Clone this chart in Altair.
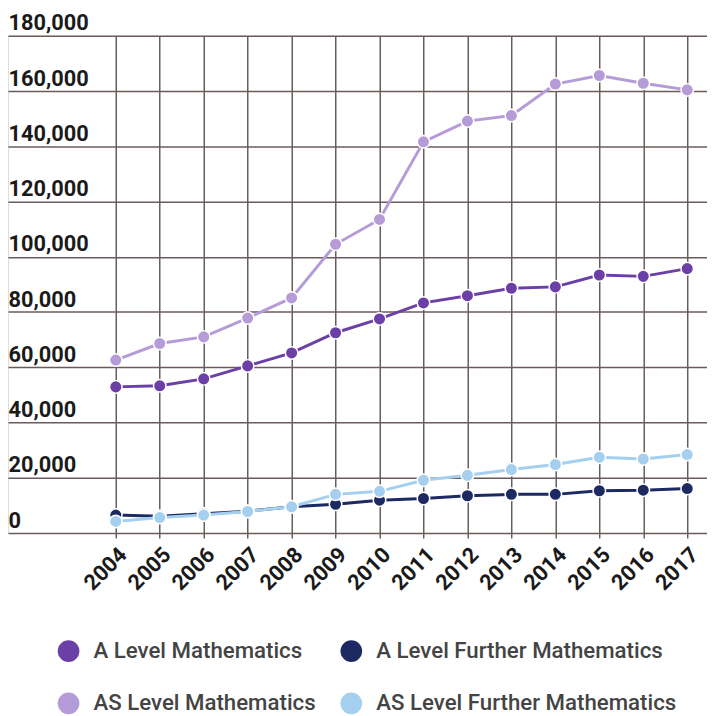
import altair as alt
import pandas as pd

years = list(range(2004, 2018))
series = ["A Level Mathematics", "A Level Further Mathematics",
          "AS Level Mathematics", "AS Level Further Mathematics"]
colors = ["#6b3fa6", "#1d2a62", "#b59cd8", "#a5cfef"]

a_level_maths = [52900, 53300, 55800, 60500, 65200, 72500, 77500, 83300,
                 85900, 88600, 89100, 93400, 92900, 95700]
a_level_further = [6500, 6100, 7000, 7900, 9500, 10400, 11900, 12500,
                   13500, 14000, 14000, 15300, 15500, 16100]
as_level_maths = [62600, 68600, 71000, 77800, 85100, 104500, 113500, 141600,
                  149100, 151100, 162500, 165600, 162800, 160400]
as_level_further = [4200, 5600, 6500, 7800, 9500, 14000, 15100, 19100,
                    20900, 23000, 24800, 27400, 26800, 28400]

y_ticks = list(range(0, 180001, 20000))

rows = []
for name, vals in zip(series, [a_level_maths, a_level_further, as_level_maths, as_level_further]):
    for yr, v in zip(years, vals):
        rows.append({"Year": yr, "Entries": v, "Series": name})
df = pd.DataFrame(rows)

x_enc = alt.X("Year:Q",
              scale=alt.Scale(domain=[2001.548, 2017.45], nice=False, zero=False),
              axis=alt.Axis(values=years, format="d", title=None, labelAngle=-45,
                            labelAlign="right", labelBaseline="top",
                            labelFlush=False, labelOverlap=False,
                            labelPadding=6, tickSize=5,
                            tickColor="#6b5b5b", tickWidth=1.5,
                            domain=False, grid=True, gridColor="#6b5b5b",
                            gridWidth=1.5, gridOpacity=1,
                            labelFont="Roboto", labelFontSize=22,
                            labelFontWeight="bold", labelColor="#1a1a1a"))
y_enc = alt.Y("Entries:Q",
              scale=alt.Scale(domain=[0, 180000], nice=False),
              axis=alt.Axis(values=y_ticks, format=",d", title=None,
                            ticks=False, domain=False, grid=True,
                            gridColor="#6b5b5b", gridWidth=1.5, gridOpacity=1,
                            labelAlign="left", labelBaseline="bottom",
                            labelPadding=0, labelOffset=-1, labelFlush=False,
                            labelOverlap=False,
                            labelFont="Roboto", labelFontSize=22,
                            labelFontWeight="bold", labelColor="#1a1a1a"))

legend = alt.Legend(title=None, orient="none", legendX=50, legendY=611,
                    direction="horizontal", columns=2,
                    symbolType="circle", symbolSize=480,
                    symbolStrokeWidth=0, symbolOpacity=1, labelFont="Roboto",
                    labelFontSize=22.5, labelFontWeight=500,
                    labelColor="#444444", labelOffset=14,
                    columnPadding=24, rowPadding=30, padding=0,
                    labelLimit=0)
color_scale = alt.Scale(domain=series, range=colors)

points = alt.Chart(df).mark_circle(size=160, stroke="white",
                                   strokeWidth=1.5, opacity=1).encode(
    x=x_enc, y=y_enc,
    color=alt.Color("Series:N", scale=color_scale, legend=legend),
)

lines = alt.Chart(df).mark_line(strokeWidth=3).encode(
    x=x_enc, y=y_enc,
    color=alt.Color("Series:N", scale=color_scale, legend=legend),
    detail="Series:N",
)

chart = alt.layer(lines, points).properties(
    width=707, height=503,
    padding={"left": 0, "top": 24, "right": 0, "bottom": 180},
    autosize=alt.AutoSizeParams(type="none"),
).configure_view(stroke=None).configure(background="white")

chart.save("out.html", embed_options={"renderer": "svg", "actions": False})
